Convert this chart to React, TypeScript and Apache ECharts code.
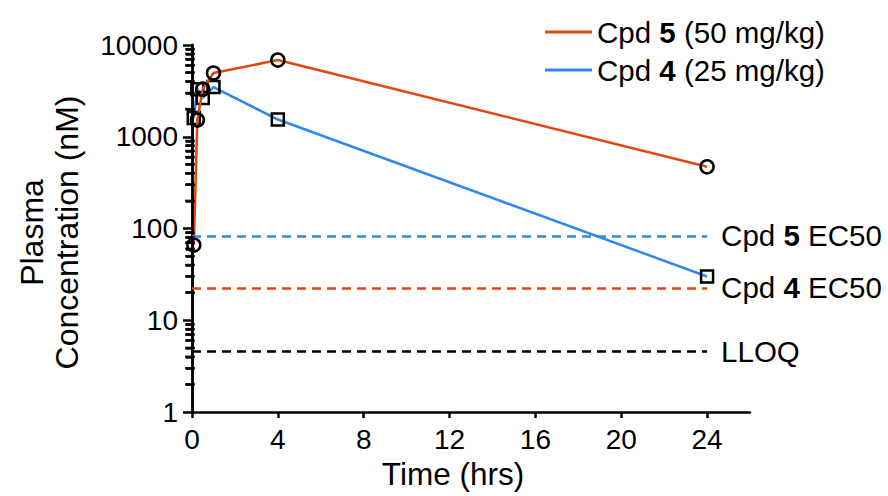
import React, { useEffect, useRef } from 'react';
import * as echarts from 'echarts';

const times = [0.083, 0.25, 0.5, 1, 4, 24];
const cpd5Conc = [66, 1520, 3300, 4950, 6850, 470];
const cpd4Conc = [1600, 3300, 2650, 3480, 1540, 30];
const seriesNames = ['Cpd 5 (50 mg/kg)', 'Cpd 4 (25 mg/kg)'];
const refNames = ['Cpd 5 EC50', 'Cpd 4 EC50', 'LLOQ'];
const refValues = [83, 22.5, 4.6];
const refEnd = 24;
const xTicks = [0, 4, 8, 12, 16, 20, 24];
const yMinorTicks = [
  2, 3, 4, 5, 6, 7, 8, 9,
  20, 30, 40, 50, 60, 70, 80, 90,
  200, 300, 400, 500, 600, 700, 800, 900,
  2000, 3000, 4000, 5000, 6000, 7000, 8000, 9000,
];

const ORANGE = '#E2470F';
const BLUE = '#2F88EE';
const refColors = [BLUE, ORANGE, '#000000'];
const FONT = '"Liberation Sans", Arial, Helvetica, sans-serif';

function boldNum(s: string): string {
  const m = s.match(/^Cpd (\d+)(.*)$/);
  if (!m) return `{r|${s}}`;
  return `{r|Cpd }{b|${m[1]}}{r|${m[2]}}`;
}

export default function App() {
  const ref = useRef<HTMLDivElement>(null);
  useEffect(() => {
    document.body.style.margin = '0';
    if (!ref.current) return;
    const chart = echarts.init(ref.current, undefined, { renderer: 'svg' });
    const rich = {
      r: { fontFamily: FONT, fontSize: 29.5, color: '#000' },
      b: { fontFamily: FONT, fontSize: 29.5, fontWeight: 'bold', color: '#000' },
    };
    const markerStyle = { color: 'rgba(0,0,0,0)', borderColor: '#000', borderWidth: 2.5 };
    chart.setOption({
      animation: false,
      backgroundColor: '#fff',
      grid: { left: 192, right: 138, top: 45, bottom: 84, containLabel: false, outerBoundsMode: 'none' },
      legend: {
        orient: 'vertical',
        left: 545,
        top: 15,
        padding: 0,
        itemWidth: 47,
        itemHeight: 3,
        itemGap: 4,
        icon: 'rect',
        data: [
          { name: seriesNames[0], itemStyle: { color: ORANGE, borderWidth: 0 } },
          { name: seriesNames[1], itemStyle: { color: BLUE, borderWidth: 0 } },
        ],
        formatter: (n: string) => boldNum(n),
        textStyle: { fontFamily: FONT, fontSize: 29.5, lineHeight: 34, color: '#000', rich },
      },
      xAxis: {
        type: 'value',
        min: 0,
        max: 26,
        interval: 4,
        name: 'Time (hrs)',
        nameLocation: 'middle',
        nameGap: 46,
        nameTextStyle: { fontFamily: FONT, fontSize: 31.5, color: '#000', padding: [0, 36, 0, 0] },
        axisLine: { onZero: false, lineStyle: { color: '#000', width: 2.5 } },
        axisTick: { show: true, length: 6, lineStyle: { color: '#000', width: 2.5 }, customValues: xTicks },
        axisLabel: { fontFamily: FONT, fontSize: 28, color: '#000', margin: 13, customValues: xTicks },
        splitLine: { show: false },
      },
      yAxis: [
        {
          type: 'log',
          logBase: 10,
          min: 1,
          max: 10000,
          name: 'Plasma\nConcentration (nM)',
          nameLocation: 'middle',
          nameRotate: 90,
          nameGap: 108,
          nameTextStyle: { fontFamily: FONT, fontSize: 32, color: '#000', lineHeight: 35, padding: [0, 8, 0, 0] },
          axisLine: { show: true, onZero: false, lineStyle: { color: '#000', width: 2.5 } },
          axisTick: { show: true, length: 9, lineStyle: { color: '#000', width: 2.5 } },
          axisLabel: {
            fontFamily: FONT,
            fontSize: 28,
            color: '#000',
            margin: 14,
            formatter: (v: number) => String(Math.round(v)),
          },
          splitLine: { show: false },
          z: 3,
        },
        {
          // minor ticks of the log axis, on a linear axis in log10 space
          type: 'value',
          min: 0,
          max: 4,
          position: 'left',
          offset: 0,
          axisLine: { show: true, onZero: false, lineStyle: { color: '#000', width: 2.5 } },
          axisTick: {
            show: true,
            length: 6,
            lineStyle: { color: '#000', width: 2.5 },
            customValues: yMinorTicks.map((v) => Math.log10(v)),
          },
          axisLabel: { show: false },
          splitLine: { show: false },
          z: 4,
        },
      ],
      series: [
        {
          name: 'minorTicks',
          type: 'scatter',
          clip: false,
          silent: true,
          z: 6,
          symbol: 'rect',
          symbolSize: [10, 2.5],
          symbolOffset: [-2, 0],
          itemStyle: { color: '#000' },
          data: yMinorTicks.map((v) => [0, v]),
        },
        {
          name: seriesNames[0],
          type: 'line',
          data: times.map((t, i) => [t, cpd5Conc[i]]),
          symbol: 'circle',
          symbolSize: 13,
          lineStyle: { color: ORANGE, width: 2.5 },
          itemStyle: { ...markerStyle },
          color: ORANGE,
          z: 3,
        },
        {
          name: seriesNames[1],
          type: 'line',
          data: times.map((t, i) => [t, cpd4Conc[i]]),
          symbol: 'rect',
          symbolSize: 12,
          lineStyle: { color: BLUE, width: 2.5 },
          itemStyle: { ...markerStyle },
          color: BLUE,
          z: 2,
        },
        {
          name: 'refs',
          type: 'line',
          data: [],
          markLine: {
            silent: true,
            symbol: ['none', 'none'],
            animation: false,
            data: refNames.map((n, i) => [
              {
                coord: [0, refValues[i]],
                lineStyle: { color: refColors[i], width: 2.5, type: [9, 6] },
                label: {
                  show: true,
                  position: 'end',
                  distance: 14,
                  formatter: () => boldNum(n),
                  rich,
                  color: '#000',
                },
              },
              { coord: [refEnd, refValues[i]] },
            ]),
          },
        },
      ],
    });
    return () => chart.dispose();
  }, []);
  return <div ref={ref} style={{ width: 888, height: 496 }} />;
}
